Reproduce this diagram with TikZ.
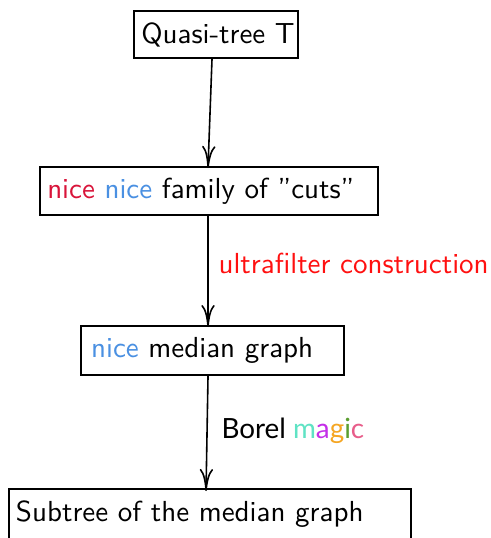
\documentclass[tikz,border=0pt]{standalone}
\usepackage{fontspec}
\newfontfamily\latofont{Lato}
\usetikzlibrary{arrows.meta,calc}
\definecolor{nicered}{HTML}{D9143A}
\definecolor{niceblue}{HTML}{4A90E2}
\definecolor{ufred}{HTML}{FF1010}
\definecolor{mgA}{HTML}{5FE3C4}
\definecolor{mgB}{HTML}{C42EE8}
\definecolor{mgC}{HTML}{F5A623}
\definecolor{mgD}{HTML}{5A9E30}
\definecolor{mgE}{HTML}{E85D8A}
\tikzset{
  box/.style={draw, line width=0.7pt, rectangle, align=left, inner ysep=0pt, anchor=north west},
  arr/.style={line width=0.55pt, -{Computer Modern Rightarrow[length=7.6pt,width=4.6pt]}},
  lbl/.style={anchor=base west, inner sep=0pt}
}
\begin{document}
\begin{tikzpicture}[x=0.345pt,y=-0.345pt,font=\sffamily]
\useasboundingbox (0,0) rectangle (491,538);
\fill[white] (0,0) rectangle (491,538);
\node[box, inner xsep=2.5pt, text width=51.58pt, minimum height=16.2pt] (q) at (133,10) {\mbox{Quasi-tree T}};
\node[box, inner xsep=2.5pt, text width=111.6pt, minimum height=16.56pt] (n) at (39,166) {\mbox{\textcolor{nicered}{nice} \textcolor{niceblue}{nice} family of ”cuts”}};
\node[box, inner xsep=3.5pt, text width=83.74pt, minimum height=16.9pt] (m) at (80,325) {\mbox{\textcolor{niceblue}{nice} median graph}};
\node[box, inner xsep=2.4pt, text width=133.9pt, minimum height=17.6pt] (s) at (8,488) {\mbox{Subtree of the median graph}};
\draw[arr] ($(q.south)+(-4,0)$) -- ($(n.north)+(-1,2)$);
\draw[arr] ($(n.south)+(-1,0)$) -- ($(m.north)+(-4.5,2)$);
\draw[arr] ($(m.south)+(-4.5,0)$) -- ($(s.north)+(-4,3)$);
\node[lbl, text=ufred] (uf) at (218,273) {ultrafilter construction};
\node[lbl, font=\latofont\fontsize{9.6pt}{11pt}\selectfont] (bm) at (221,438) {Borel\ \textcolor{mgA}{m}\textcolor{mgB}{a}\textcolor{mgC}{g}\textcolor{mgD}{i}\textcolor{mgE}{c}};
\end{tikzpicture}
\end{document}
